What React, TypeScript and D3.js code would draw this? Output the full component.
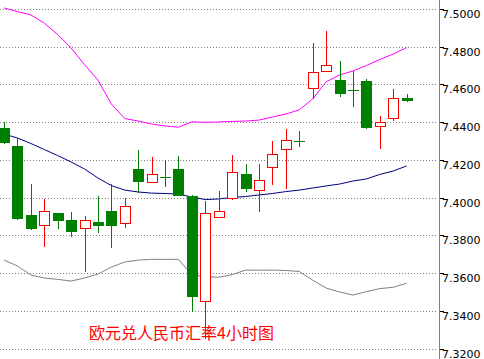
import React from "react";
import * as d3 from "d3";

const W = 484;
const H = 359;

const opens = [7.4371, 7.4277, 7.391, 7.385, 7.392, 7.3883, 7.3834, 7.3873, 7.3931, 7.386, 7.4154, 7.4081, 7.4113, 7.4154, 7.4012, 7.3447, 7.3892, 7.3993, 7.4127, 7.4037, 7.4157, 7.4253, 7.43, 7.4576, 7.4666, 7.4625, 7.4572, 7.462, 7.4375, 7.442, 7.4531];
const highs = [7.4403, 7.4318, 7.4074, 7.3993, 7.392, 7.3926, 7.3904, 7.401, 7.4076, 7.3998, 7.4254, 7.4217, 7.4201, 7.4224, 7.4015, 7.3984, 7.4037, 7.4228, 7.418, 7.418, 7.4302, 7.4366, 7.4355, 7.4821, 7.4887, 7.4726, 7.4671, 7.4631, 7.4435, 7.4578, 7.4551];
const lows = [7.4286, 7.3885, 7.383, 7.3742, 7.3837, 7.3795, 7.3609, 7.3816, 7.3733, 7.3843, 7.4025, 7.4081, 7.406, 7.4012, 7.3397, 7.3251, 7.3892, 7.399, 7.4033, 7.3927, 7.4069, 7.4046, 7.4272, 7.4523, 7.4666, 7.4537, 7.4484, 7.4366, 7.426, 7.441, 7.451];
const closes = [7.4293, 7.3887, 7.3837, 7.3929, 7.388, 7.3821, 7.3883, 7.3853, 7.3853, 7.3958, 7.4086, 7.4127, 7.4106, 7.4012, 7.3477, 7.3919, 7.3933, 7.4136, 7.4046, 7.4095, 7.4232, 7.4306, 7.4299, 7.4668, 7.4703, 7.4551, 7.4571, 7.4373, 7.4401, 7.4528, 7.4516];

const upperBand = [7.5007, 7.4988, 7.497, 7.4927, 7.4866, 7.4795, 7.4707, 7.4625, 7.4498, 7.4421, 7.4408, 7.4392, 7.4382, 7.4375, 7.4404, 7.4401, 7.4403, 7.4406, 7.4408, 7.4413, 7.4429, 7.4445, 7.4467, 7.4525, 7.4615, 7.4652, 7.4673, 7.4702, 7.4734, 7.4763, 7.4797];
const midBand = [7.4339, 7.4318, 7.4289, 7.4257, 7.4225, 7.4191, 7.4154, 7.4106, 7.4066, 7.4042, 7.4032, 7.4026, 7.4024, 7.4021, 7.4005, 7.3992, 7.3995, 7.4003, 7.4008, 7.4016, 7.4024, 7.4034, 7.4042, 7.4053, 7.4064, 7.4074, 7.409, 7.4101, 7.4125, 7.4143, 7.417];
const lowerBand = [7.3671, 7.364, 7.3592, 7.3576, 7.3569, 7.356, 7.3576, 7.3597, 7.3634, 7.3661, 7.3671, 7.3675, 7.3675, 7.3675, 7.3592, 7.3584, 7.358, 7.3594, 7.3618, 7.3618, 7.3618, 7.3616, 7.3611, 7.3565, 7.3523, 7.3502, 7.3486, 7.3504, 7.352, 7.3527, 7.3548];

const yTicks = [7.5, 7.48, 7.46, 7.44, 7.42, 7.4, 7.38, 7.36, 7.34, 7.32];
const title = "欧元兑人民币汇率4小时图";

export default function App() {
  const n = opens.length;
  const x = d3.scaleLinear().domain([0, n - 1]).range([4, 406.6]);
  const y = d3.scaleLinear().domain([7.32, 7.5]).range([349, 9.3]);
  const cx = (i: number) => Math.round(x(i)) + 0.5;
  const idx = d3.range(n);

  const line = (arr: number[]) =>
    d3
      .line<number>()
      .x((_, i) => x(i))
      .y((v) => y(v))(arr) || "";

  const axisX = 439.5;

  return (
    <svg
      width={W}
      height={H}
      style={{ position: "fixed", left: 0, top: 0, background: "#fff" }}
    >
      <rect x={0} y={0} width={W} height={H} fill="#fff" />
      {yTicks.map((t) => {
        const gy = Math.floor(y(t)) + 0.5;
        return (
          <g key={t}>
            <line x1={0} x2={436} y1={gy} y2={gy} stroke="#808080" strokeDasharray="1,2" />
            <line x1={axisX} x2={444} y1={gy} y2={gy} stroke="#000" />
            <text
              x={442}
              y={gy + 8}
              fontFamily="DejaVu Sans, sans-serif"
              fontSize={11}
              fill="#000"
            >
              {t.toFixed(4)}
            </text>
          </g>
        );
      })}
      <line x1={axisX} x2={axisX} y1={0} y2={H} stroke="#808080" />

      <path d={line(upperBand)} fill="none" stroke="#ff00ff" strokeWidth={1} />
      <path d={line(midBand)} fill="none" stroke="#000080" strokeWidth={1} />
      <path d={line(lowerBand)} fill="none" stroke="#808080" strokeWidth={1} />

      {idx.map((i) => {
        const o = opens[i];
        const c = closes[i];
        const up = c > o;
        const color = up ? "#ff0000" : "#008000";
        const xc = cx(i);
        const top = Math.round(y(Math.max(o, c)));
        const bot = Math.round(y(Math.min(o, c)));
        const hgt = Math.max(bot - top, 1);
        return (
          <g key={i}>
            <line
              x1={xc}
              x2={xc}
              y1={Math.round(y(highs[i]))}
              y2={Math.round(y(lows[i]))}
              stroke={color}
              strokeWidth={1}
            />
            {up ? (
              <rect
                x={xc - 5}
                y={top + 0.5}
                width={10}
                height={Math.max(hgt - 1, 1)}
                fill="#fff"
                stroke={color}
                strokeWidth={1}
              />
            ) : (
              <rect x={xc - 5.5} y={top} width={11} height={hgt} fill={color} />
            )}
          </g>
        );
      })}

      <text
        x={89}
        y={339}
        fontFamily="Noto Sans CJK SC, sans-serif"
        fontSize={16}
        fill="#ff0000"
      >
        {title}
      </text>
    </svg>
  );
}
